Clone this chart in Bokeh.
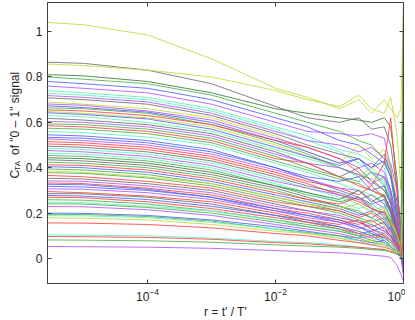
import math
from bokeh.plotting import figure
from bokeh.layouts import row
from bokeh.models import (Range1d, FixedTicker, LogAxis, LinearAxis, CustomJSTickFormatter, Label,
                          LogTickFormatter, LogTicker)
from bokeh.embed import file_html
from bokeh.resources import INLINE

# r = t'/T' sample positions (log spaced, left edge .. 1)
r = [2.738e-6, 1e-5, 1e-4, 1e-3, 1e-2, 0.0316, 0.1, 0.1995, 0.316, 0.501, 0.631, 0.794, 0.912, 1.0]

s01 = [1.04, 1.03, 0.985, 0.88, 0.75, 0.71, 0.66, 0.70, 0.64, 0.70, 0.66, 0.62, 0.66, 1.12]
s02 = [0.865, 0.86, 0.83, 0.77, 0.67, 0.62, 0.60, 0.62, 0.57, 0.58, 0.50, 0.30, 0.12, 0.02]
s03 = [0.857, 0.85, 0.83, 0.80, 0.74, 0.70, 0.67, 0.72, 0.66, 0.64, 0.71, 0.55, 0.30, 0.85]
s04 = [0.81, 0.805, 0.78, 0.73, 0.66, 0.64, 0.62, 0.61, 0.60, 0.62, 0.58, 0.35, 0.08, 1.12]
s05 = [0.80, 0.79, 0.77, 0.72, 0.64, 0.60, 0.56, 0.52, 0.50, 0.44, 0.38, 0.22, 0.10, 0.65]
s06 = [0.78, 0.77, 0.75, 0.70, 0.62, 0.58, 0.52, 0.50, 0.46, 0.42, 0.36, 0.18, 0.08, 0.30]
s07 = [0.76, 0.75, 0.73, 0.68, 0.60, 0.56, 0.55, 0.54, 0.55, 0.53, 0.40, 0.20, 0.09, 0.12]
s08 = [0.74, 0.73, 0.71, 0.66, 0.58, 0.54, 0.48, 0.46, 0.43, 0.40, 0.30, 0.16, 0.07, 0.40]
s09 = [0.728, 0.72, 0.70, 0.65, 0.57, 0.52, 0.47, 0.42, 0.38, 0.34, 0.27, 0.15, 0.06, -0.02]
s10 = [0.718, 0.71, 0.69, 0.64, 0.56, 0.52, 0.50, 0.47, 0.49, 0.44, 0.42, 0.30, 0.12, 0.55]
s11 = [0.708, 0.70, 0.68, 0.63, 0.55, 0.50, 0.46, 0.44, 0.40, 0.46, 0.38, 0.20, 0.05, 0.08]
s12 = [0.69, 0.68, 0.66, 0.62, 0.54, 0.47, 0.42, 0.50, 0.44, 0.48, 0.40, 0.25, 0.10, 0.70]
s13 = [0.681, 0.675, 0.65, 0.61, 0.53, 0.49, 0.44, 0.40, 0.42, 0.38, 0.30, 0.12, 0.04, 0.20]
s14 = [0.673, 0.665, 0.645, 0.60, 0.52, 0.47, 0.42, 0.44, 0.40, 0.43, 0.36, 0.25, 0.12, 0.46]
s15 = [0.664, 0.66, 0.64, 0.59, 0.51, 0.46, 0.40, 0.37, 0.35, 0.30, 0.25, 0.14, 0.06, 0.03]
s16 = [0.655, 0.65, 0.63, 0.59, 0.52, 0.49, 0.44, 0.38, 0.32, 0.42, 0.62, 0.30, 0.10, 0.25]
s17 = [0.648, 0.64, 0.62, 0.58, 0.50, 0.45, 0.40, 0.36, 0.40, 0.35, 0.28, 0.16, 0.06, 0.90]
s18 = [0.642, 0.635, 0.615, 0.57, 0.49, 0.45, 0.41, 0.44, 0.38, 0.36, 0.30, 0.18, 0.08, 0.10]
s19 = [0.63, 0.625, 0.60, 0.56, 0.48, 0.44, 0.40, 0.36, 0.38, 0.33, 0.26, 0.12, 0.04, 0.32]
s20 = [0.618, 0.61, 0.59, 0.55, 0.47, 0.42, 0.36, 0.40, 0.34, 0.30, 0.24, 0.14, 0.05, -0.03]
s21 = [0.604, 0.60, 0.58, 0.54, 0.46, 0.42, 0.40, 0.37, 0.33, 0.36, 0.28, 0.15, 0.07, 0.15]
s22 = [0.593, 0.59, 0.57, 0.53, 0.45, 0.40, 0.36, 0.34, 0.38, 0.32, 0.26, 0.10, 0.05, 0.60]
s23 = [0.585, 0.58, 0.56, 0.52, 0.44, 0.42, 0.36, 0.32, 0.30, 0.27, 0.22, 0.14, 0.06, 0.05]
s24 = [0.574, 0.57, 0.55, 0.51, 0.43, 0.39, 0.35, 0.33, 0.30, 0.28, 0.20, 0.09, 0.03, 0.18]
s25 = [0.559, 0.555, 0.535, 0.50, 0.42, 0.38, 0.33, 0.30, 0.28, 0.25, 0.20, 0.12, 0.05, 0.36]
s26 = [0.545, 0.54, 0.52, 0.48, 0.40, 0.36, 0.34, 0.36, 0.30, 0.32, 0.24, 0.12, 0.04, -0.05]
s27 = [0.534, 0.53, 0.51, 0.47, 0.40, 0.35, 0.30, 0.27, 0.24, 0.26, 0.20, 0.10, 0.06, 0.22]
s28 = [0.527, 0.52, 0.50, 0.46, 0.39, 0.35, 0.31, 0.30, 0.26, 0.22, 0.26, 0.16, 0.08, 0.48]
s29 = [0.515, 0.51, 0.49, 0.45, 0.38, 0.34, 0.31, 0.28, 0.32, 0.27, 0.22, 0.12, 0.05, 0.12]
s30 = [0.505, 0.50, 0.48, 0.44, 0.37, 0.33, 0.28, 0.25, 0.22, 0.20, 0.16, 0.10, 0.04, 0.28]
s31 = [0.495, 0.49, 0.47, 0.43, 0.36, 0.32, 0.29, 0.26, 0.28, 0.24, 0.18, 0.08, 0.02, 0.06]
s32 = [0.486, 0.48, 0.46, 0.42, 0.35, 0.31, 0.27, 0.24, 0.21, 0.23, 0.17, 0.11, 0.05, 0.42]
s33 = [0.476, 0.47, 0.45, 0.41, 0.34, 0.31, 0.28, 0.26, 0.22, 0.19, 0.15, 0.09, 0.03, -0.08]
s34 = [0.464, 0.46, 0.44, 0.40, 0.33, 0.29, 0.25, 0.22, 0.24, 0.20, 0.14, 0.07, 0.04, 0.14]
s35 = [0.454, 0.45, 0.43, 0.39, 0.32, 0.28, 0.25, 0.27, 0.23, 0.18, 0.16, 0.10, 0.05, 0.34]
s36 = [0.444, 0.44, 0.42, 0.38, 0.32, 0.29, 0.26, 0.30, 0.25, 0.28, 0.21, 0.12, 0.06, 0.75]
s37 = [0.435, 0.43, 0.41, 0.37, 0.31, 0.27, 0.23, 0.20, 0.18, 0.21, 0.15, 0.08, 0.03, 0.10]
s38 = [0.424, 0.42, 0.40, 0.36, 0.30, 0.26, 0.23, 0.21, 0.18, 0.15, 0.13, 0.06, 0.02, 0.24]
s39 = [0.413, 0.41, 0.39, 0.35, 0.29, 0.26, 0.24, 0.27, 0.22, 0.20, 0.17, 0.13, 0.07, 0.38]
s40 = [0.405, 0.40, 0.38, 0.34, 0.28, 0.25, 0.22, 0.19, 0.21, 0.17, 0.13, 0.06, 0.01, -0.06]
s41 = [0.395, 0.39, 0.37, 0.33, 0.27, 0.24, 0.21, 0.18, 0.16, 0.18, 0.14, 0.09, 0.04, 0.16]
s42 = [0.386, 0.38, 0.36, 0.33, 0.27, 0.24, 0.22, 0.24, 0.20, 0.22, 0.16, 0.10, 0.05, 0.52]
s43 = [0.378, 0.375, 0.355, 0.32, 0.26, 0.23, 0.20, 0.17, 0.15, 0.12, 0.10, 0.05, 0.02, 0.08]
s44 = [0.366, 0.36, 0.34, 0.31, 0.25, 0.23, 0.21, 0.18, 0.20, 0.16, 0.12, 0.08, 0.03, 0.20]
s45 = [0.354, 0.35, 0.33, 0.30, 0.24, 0.21, 0.18, 0.16, 0.14, 0.16, 0.11, 0.06, 0.02, -0.02]
s46 = [0.342, 0.34, 0.32, 0.29, 0.23, 0.21, 0.19, 0.16, 0.13, 0.11, 0.14, 0.08, 0.03, 0.30]
s47 = [0.333, 0.33, 0.31, 0.28, 0.22, 0.20, 0.17, 0.15, 0.17, 0.13, 0.10, 0.06, 0.02, 0.09]
s48 = [0.327, 0.325, 0.305, 0.27, 0.22, 0.19, 0.17, 0.14, 0.12, 0.14, 0.10, 0.05, 0.03, 0.44]
s49 = [0.318, 0.315, 0.30, 0.27, 0.21, 0.19, 0.16, 0.14, 0.11, 0.09, 0.07, 0.04, 0.01, 0.04]
s50 = [0.307, 0.305, 0.29, 0.26, 0.21, 0.18, 0.16, 0.13, 0.15, 0.12, 0.09, 0.05, 0.02, 0.26]
s51 = [0.295, 0.29, 0.275, 0.25, 0.20, 0.17, 0.15, 0.17, 0.13, 0.10, 0.08, 0.06, 0.03, 0.13]
s52 = [0.286, 0.285, 0.27, 0.24, 0.19, 0.17, 0.14, 0.12, 0.10, 0.11, 0.08, 0.04, 0.02, -0.04]
s53 = [0.278, 0.275, 0.26, 0.23, 0.19, 0.16, 0.14, 0.11, 0.12, 0.09, 0.07, 0.04, 0.01, 0.19]
s54 = [0.27, 0.268, 0.25, 0.22, 0.18, 0.16, 0.13, 0.11, 0.09, 0.10, 0.07, 0.05, 0.02, 0.07]
s55 = [0.259, 0.257, 0.24, 0.21, 0.17, 0.15, 0.13, 0.10, 0.11, 0.08, 0.06, 0.03, 0.02, 0.58]
s56 = [0.248, 0.246, 0.23, 0.21, 0.17, 0.14, 0.12, 0.10, 0.08, 0.09, 0.07, 0.04, 0.02, 0.11]
s57 = [0.241, 0.24, 0.225, 0.20, 0.16, 0.14, 0.12, 0.10, 0.08, 0.07, 0.05, 0.03, 0.01, 0.02]
s58 = [0.229, 0.228, 0.215, 0.19, 0.15, 0.13, 0.11, 0.09, 0.10, 0.07, 0.05, 0.03, 0.00, -0.07]
s59 = [0.20, 0.199, 0.19, 0.17, 0.14, 0.12, 0.10, 0.08, 0.07, 0.08, 0.05, 0.03, 0.01, 0.17]
s60 = [0.195, 0.194, 0.185, 0.165, 0.13, 0.115, 0.10, 0.09, 0.07, 0.06, 0.05, 0.03, 0.02, 0.27]
s61 = [0.189, 0.188, 0.18, 0.16, 0.13, 0.11, 0.09, 0.08, 0.06, 0.07, 0.05, 0.02, 0.01, 0.05]
s62 = [0.179, 0.178, 0.17, 0.15, 0.12, 0.11, 0.09, 0.07, 0.08, 0.06, 0.04, 0.03, 0.02, 0.33]
s63 = [0.157, 0.156, 0.15, 0.135, 0.11, 0.10, 0.08, 0.07, 0.06, 0.05, 0.04, 0.02, 0.01, 0.10]
s64 = [0.104, 0.103, 0.10, 0.09, 0.075, 0.07, 0.06, 0.05, 0.04, 0.04, 0.03, 0.02, 0.01, 0.01]
s65 = [0.097, 0.096, 0.093, 0.085, 0.07, 0.065, 0.055, 0.05, 0.045, 0.04, 0.03, 0.02, 0.01, 0.06]
s66 = [0.082, 0.081, 0.078, 0.072, 0.06, 0.055, 0.05, 0.045, 0.04, 0.035, 0.03, 0.02, 0.01, 0.00]
s67 = [0.053, 0.052, 0.05, 0.045, 0.035, 0.03, 0.025, 0.02, 0.015, 0.01, 0.005, -0.03, -0.07, -0.10]

series = [s01, s02, s03, s04, s05, s06, s07, s08, s09, s10, s11, s12, s13, s14, s15, s16, s17,
          s18, s19, s20, s21, s22, s23, s24, s25, s26, s27, s28, s29, s30, s31, s32, s33, s34,
          s35, s36, s37, s38, s39, s40, s41, s42, s43, s44, s45, s46, s47, s48, s49, s50, s51,
          s52, s53, s54, s55, s56, s57, s58, s59, s60, s61, s62, s63, s64, s65, s66, s67]

series_colors = ["Y", "K", "Y", "D", "G", "B", "P", "C", "C", "P", "K", "Y", "P", "B", "G", "R", "Y",
                 "B", "C", "K", "P", "G", "R", "G", "C", "B", "B", "P", "R", "R", "K", "C", "P", "C",
                 "G", "D", "K", "G", "R", "B", "G", "Y", "G", "R", "K", "P", "R", "B", "B", "P", "R",
                 "K", "B", "R", "G", "C", "G", "P", "B", "G", "C", "Y", "R", "C", "R", "G", "P"]

palette = {"Y": "#c3d83a", "K": "#6e6e6e", "G": "#4caf4c", "D": "#3a7d3a", "B": "#5060ff",
           "P": "#b055ff", "C": "#5cf0bc", "R": "#ff4040"}

y_ticks = [0, 0.2, 0.4, 0.6, 0.8, 1]
x_ticks = [1e-4, 1e-2, 1.0]

FONT = "Liberation Sans"
TXT = "#262626"
AX = "#404040"

LBL_W = 22    # width of the strip that carries the rotated y title
LBL_H = 300

p = figure(x_axis_type="log", x_range=Range1d(2.738e-6, 1.0), y_range=Range1d(-0.110, 1.128),
           frame_width=356, frame_height=281, output_backend="svg", toolbar_location=None,
           min_border_left=46 - LBL_W, min_border_top=2, min_border_right=2, min_border_bottom=0,
           background_fill_color="white", border_fill_color="white")
p.xgrid.visible = False
p.ygrid.visible = False
p.outline_line_color = AX
p.outline_line_width = 1

for ys, c in zip(series, series_colors):
    p.line(r, ys, line_color=palette[c], line_width=1, line_alpha=0.85)

def style_axis(ax):
    ax.major_tick_in = 4
    ax.major_tick_out = 0
    ax.minor_tick_in = 0
    ax.minor_tick_out = 0
    ax.axis_line_color = AX
    ax.major_tick_line_color = AX
    ax.major_label_text_font = FONT
    ax.major_label_text_font_size = "12px"
    ax.major_label_text_color = TXT

xa = p.xaxis[0]
xa.ticker = FixedTicker(ticks=x_ticks)
xa.formatter = LogTickFormatter(ticker=LogTicker())
style_axis(xa)
xa.major_label_standoff = 4
xa.axis_label = "r = t' / T'"
xa.axis_label_text_font = FONT
xa.axis_label_text_font_size = "12px"
xa.axis_label_text_font_style = "normal"
xa.axis_label_text_color = TXT
xa.axis_label_standoff = 1

ya = p.yaxis[0]
ya.ticker = FixedTicker(ticks=y_ticks)
ya.formatter = CustomJSTickFormatter(code="return tick.toString();")
style_axis(ya)
ya.major_label_standoff = 5

blank = CustomJSTickFormatter(code="return '';")

top = LogAxis(ticker=FixedTicker(ticks=x_ticks), formatter=blank)
style_axis(top)
top.major_label_standoff = 0
p.add_layout(top, "above")

right = LinearAxis(ticker=FixedTicker(ticks=y_ticks), formatter=blank)
style_axis(right)
right.major_label_standoff = 0
p.add_layout(right, "right")

# narrow strip on the left carrying the rotated y title  C_TA  of  "0 – 1"  signal
# (its data units are page pixels: x from the left, y measured up from the strip's bottom)
lf = figure(width=LBL_W, height=LBL_H, x_range=Range1d(0, LBL_W), y_range=Range1d(0, LBL_H),
            x_axis_type=None, y_axis_type=None, output_backend="svg", toolbar_location=None,
            min_border=0, outline_line_color=None, background_fill_color="white",
            border_fill_color="white")
lab_kw = dict(x_units="data", y_units="data", angle=math.pi / 2, text_align="left",
              text_baseline="alphabetic", text_font=FONT, text_color=TXT)
lf.add_layout(Label(x=14, y=LBL_H - 203, text="C", text_font_size="12px", **lab_kw))
lf.add_layout(Label(x=16.5, y=LBL_H - 194, text="TA", text_font_size="8px", **lab_kw))
lf.add_layout(Label(x=14, y=LBL_H - 176, text='of  "0 – 1"  signal', text_font_size="12px", **lab_kw))

layout = row(lf, p)
open("out.html", "w").write(file_html(layout, INLINE))
